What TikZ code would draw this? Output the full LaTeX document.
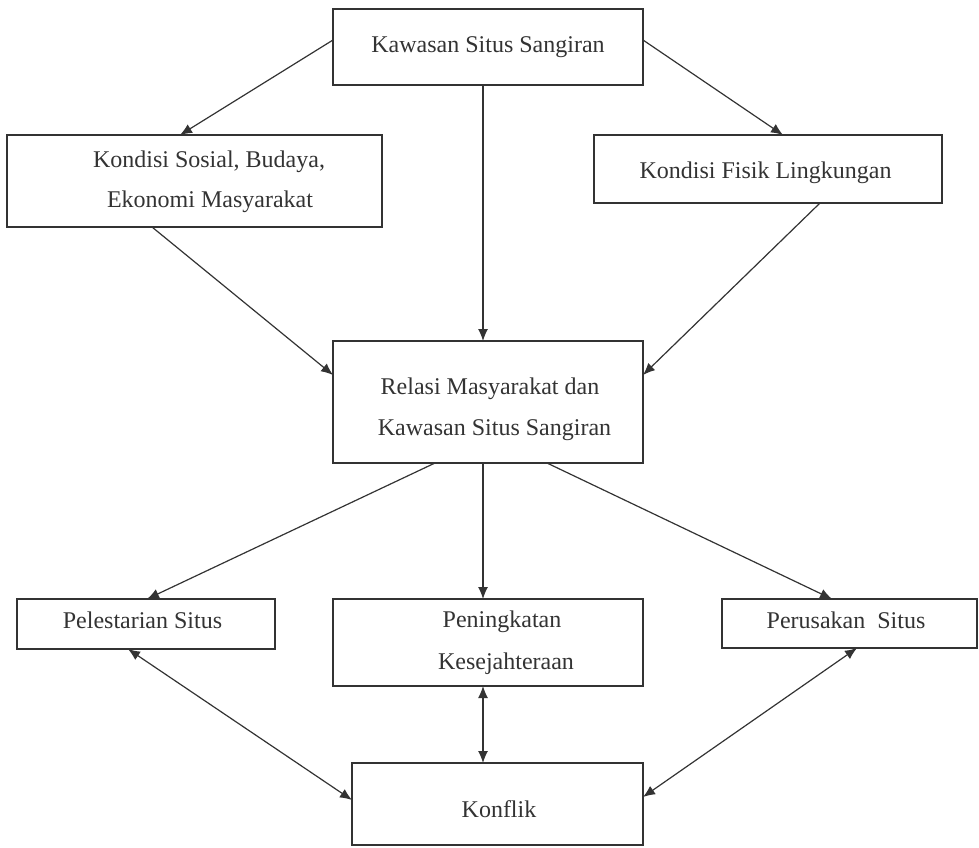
\documentclass[tikz,border=0pt]{standalone}
\usepackage{fontspec}
\setmainfont{Liberation Serif}
\usetikzlibrary{arrows.meta,calc}
\definecolor{ink}{HTML}{333333}
\begin{document}
\begin{tikzpicture}[x=1pt,y=-1pt,
  box/.style={draw=ink,line width=1.3pt,rectangle,inner sep=0pt,outer sep=0pt},
  txt/.style={anchor=base,inner sep=0pt,text=ink,font=\fontsize{24}{40}\selectfont},
  conn/.style={draw=ink,line width=1.2pt,-{Latex[length=12pt,width=10pt]}},
  bconn/.style={draw=ink,line width=1.2pt,{Latex[length=12pt,width=10pt]}-{Latex[length=12pt,width=10pt]}}]
\useasboundingbox (0,0) rectangle (979,847);
% boxes
\node[box,minimum width=310pt,minimum height=76pt] (b1) at (488,47) {};
\node[box,minimum width=375pt,minimum height=92pt] (b2) at (194.5,181) {};
\node[box,minimum width=348pt,minimum height=68pt] (b3) at (768,169) {};
\node[box,minimum width=310pt,minimum height=122pt] (b4) at (488,402) {};
\node[box,minimum width=258pt,minimum height=50pt] (b5) at (146,624) {};
\node[box,minimum width=310pt,minimum height=87pt] (b6) at (488,642.5) {};
\node[box,minimum width=255pt,minimum height=49pt] (b7) at (849.5,623.5) {};
\node[box,minimum width=291pt,minimum height=82pt] (b8) at (497.5,804) {};
% texts
\node[txt] (t1) at (488,52) {Kawasan Situs Sangiran};
\node[txt] (t2a) at (209,167) {Kondisi Sosial, Budaya,};
\node[txt] (t2b) at (210,207) {Ekonomi Masyarakat};
\node[txt] (t3) at (765.5,178) {Kondisi Fisik Lingkungan};
\node[txt] (t4a) at (490,394) {Relasi Masyarakat dan};
\node[txt] (t4b) at (494.5,435) {Kawasan Situs Sangiran};
\node[txt] (t5) at (142.5,628) {Pelestarian Situs};
\node[txt] (t6a) at (502,627) {Peningkatan};
\node[txt] (t6b) at (506,669) {Kesejahteraan};
\node[txt] (t7) at (846,628) {Perusakan\ \ Situs};
\node[txt] (t8) at (499,817) {Konflik};
% connectors
\draw[conn] ($(b1.north west)+(0,31)$) -- ($(b2.north west)+(173,0)$);
\draw[conn] ($(b1.south west)+(150,0)$) -- ($(b4.north west)+(150,0)$);
\draw[conn] ($(b1.north east)+(0,31)$) -- ($(b3.north west)+(189,0)$);
\draw[conn] ($(b2.south west)+(145,0)$) -- ($(b4.north west)+(0,34)$);
\draw[conn] ($(b3.south west)+(226,0)$) -- ($(b4.north east)+(0,34)$);
\draw[conn] ($(b4.south west)+(102,0)$) -- ($(b5.north west)+(130,0)$);
\draw[conn] ($(b4.south west)+(150,0)$) -- ($(b6.north west)+(150,0)$);
\draw[conn] ($(b4.south west)+(214,0)$) -- ($(b7.north west)+(110,0)$);
\draw[bconn] ($(b5.south west)+(111,0)$) -- ($(b8.north west)+(0,37)$);
\draw[bconn] ($(b6.south west)+(150,0)$) -- ($(b8.north west)+(131,0)$);
\draw[bconn] ($(b7.south west)+(135,0)$) -- ($(b8.north east)+(0,34)$);
\end{tikzpicture}
\end{document}
